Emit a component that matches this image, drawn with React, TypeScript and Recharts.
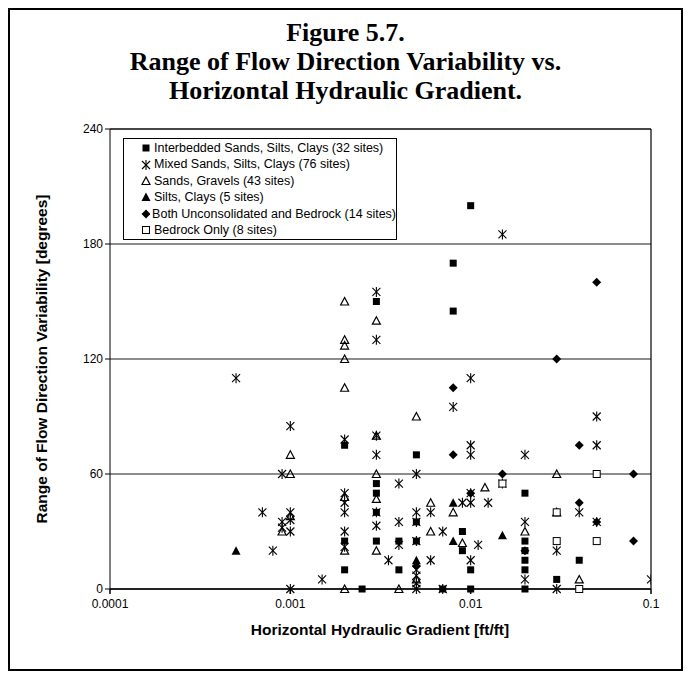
import { CartesianGrid, Legend, ReferenceLine, Scatter, ScatterChart, XAxis, YAxis } from "recharts";

type Pt = [number, number];

const interbedded: Pt[] = [
  [0.01, 200], [0.008, 170], [0.003, 150], [0.008, 145], [0.002, 75], [0.005, 70],
  [0.003, 55], [0.003, 50], [0.003, 40], [0.005, 35], [0.002, 25], [0.003, 25],
  [0.004, 25], [0.005, 25], [0.009, 30], [0.009, 20], [0.002, 10], [0.004, 10],
  [0.01, 10], [0.0025, 0], [0.007, 0], [0.01, 0], [0.02, 50], [0.02, 25], [0.02, 20],
  [0.02, 15], [0.02, 10], [0.02, 0], [0.04, 15], [0.03, 5]
];

const mixed: Pt[] = [
  [0.0005, 110], [0.015, 185], [0.003, 155], [0.003, 130], [0.01, 110], [0.008, 95],
  [0.001, 85], [0.002, 78], [0.003, 80], [0.003, 70], [0.01, 75], [0.01, 70], [0.02, 70],
  [0.05, 90], [0.05, 75], [0.0009, 60], [0.005, 60], [0.004, 55], [0.002, 50], [0.002, 45],
  [0.002, 40], [0.002, 30], [0.002, 22], [0.001, 40], [0.001, 36], [0.001, 30], [0.0009, 35],
  [0.0009, 32], [0.0007, 40], [0.0008, 20], [0.001, 0], [0.0015, 5], [0.003, 40], [0.003, 33],
  [0.004, 35], [0.004, 23], [0.0035, 15], [0.005, 40], [0.005, 35], [0.005, 25], [0.005, 10],
  [0.005, 7], [0.005, 3], [0.005, 0], [0.006, 40], [0.006, 15], [0.007, 30], [0.009, 45],
  [0.01, 50], [0.01, 45], [0.01, 15], [0.011, 23], [0.0125, 45], [0.015, 55], [0.02, 35],
  [0.02, 5], [0.03, 20], [0.03, 0], [0.04, 40], [0.05, 35], [0.1, 5], [0.007, 0]
];

const sandsGravels: Pt[] = [
  [0.002, 150], [0.003, 140], [0.002, 130], [0.002, 127], [0.002, 120], [0.002, 105],
  [0.005, 90], [0.001, 70], [0.003, 80], [0.001, 60], [0.003, 60], [0.001, 38], [0.0009, 30],
  [0.002, 48], [0.002, 20], [0.002, 0], [0.003, 47], [0.003, 20], [0.004, 0], [0.005, 5],
  [0.006, 45], [0.006, 30], [0.008, 40], [0.009, 24], [0.012, 53], [0.02, 30], [0.03, 60],
  [0.03, 40], [0.04, 5]
];

const siltsClays: Pt[] = [[0.0005, 20], [0.005, 15], [0.008, 45], [0.008, 25], [0.015, 28]];

const bothUncons: Pt[] = [
  [0.05, 160], [0.03, 120], [0.008, 105], [0.008, 70], [0.04, 75], [0.015, 60], [0.08, 60],
  [0.01, 50], [0.04, 45], [0.05, 35], [0.08, 25], [0.02, 20], [0.005, 12]
];

const bedrockOnly: Pt[] = [[0.05, 60], [0.015, 55], [0.03, 40], [0.03, 25], [0.05, 25], [0.04, 0]];

const xTicks = [0.0001, 0.001, 0.01, 0.1];
const yTicks = [0, 60, 120, 180, 240];

type Kind = "square" | "star" | "triangle" | "filledTriangle" | "diamond" | "openSquare";

const series: { name: string; kind: Kind; points: Pt[] }[] = [
  { name: "Interbedded Sands, Silts, Clays (32 sites)", kind: "square", points: interbedded },
  { name: "Mixed Sands, Silts, Clays (76 sites)", kind: "star", points: mixed },
  { name: "Sands, Gravels (43 sites)", kind: "triangle", points: sandsGravels },
  { name: "Silts, Clays (5 sites)", kind: "filledTriangle", points: siltsClays },
  { name: "Both Unconsolidated and Bedrock (14 sites)", kind: "diamond", points: bothUncons },
  { name: "Bedrock Only (8 sites)", kind: "openSquare", points: bedrockOnly }
];

function Marker({ kind, cx, cy }: { kind: Kind; cx: number; cy: number }) {
  switch (kind) {
    case "square":
      return <rect x={cx - 3.5} y={cy - 3.5} width={7} height={7} fill="#000" />;
    case "openSquare":
      return <rect x={cx - 3.5} y={cy - 3.5} width={7} height={7} fill="#fff" stroke="#000" strokeWidth={1} />;
    case "star":
      return (
        <g stroke="#000" strokeWidth={1.1}>
          <line x1={cx} y1={cy - 5} x2={cx} y2={cy + 5} />
          <line x1={cx - 4} y1={cy - 4} x2={cx + 4} y2={cy + 4} />
          <line x1={cx - 4} y1={cy + 4} x2={cx + 4} y2={cy - 4} />
        </g>
      );
    case "triangle":
      return <polygon points={`${cx},${cy - 4} ${cx + 4},${cy + 3.5} ${cx - 4},${cy + 3.5}`} fill="none" stroke="#000" strokeWidth={1.2} />;
    case "filledTriangle":
      return <polygon points={`${cx},${cy - 4.5} ${cx + 4.5},${cy + 4} ${cx - 4.5},${cy + 4}`} fill="#000" />;
    case "diamond":
      return <polygon points={`${cx},${cy - 4.5} ${cx + 4.5},${cy} ${cx},${cy + 4.5} ${cx - 4.5},${cy}`} fill="#000" />;
  }
}

function LegendBox() {
  return (
    <div
      style={{
        border: "1px solid #000",
        background: "#fff",
        padding: "1px 0 1px 16px",
        fontFamily: "'Liberation Sans', Arial, sans-serif",
        fontSize: 12.5,
        lineHeight: "16.4px",
        color: "#000"
      }}
    >
      {series.map((s) => (
        <div key={s.name} style={{ display: "flex", alignItems: "center", whiteSpace: "nowrap" }}>
          <svg width={12} height={12} style={{ marginRight: 2 }}>
            <Marker kind={s.kind} cx={6} cy={6} />
          </svg>
          {s.name}
        </div>
      ))}
    </div>
  );
}

const tickStyle = { fontFamily: "'Liberation Sans', Arial, sans-serif", fontSize: 12, fill: "#000" };

export default function App() {
  return (
    <div style={{ position: "relative", width: 675, height: 663 }}>
      <div
        style={{
          position: "absolute",
          left: 0,
          top: 0,
          width: 675,
          height: 663,
          border: "2px solid #000",
          boxSizing: "border-box"
        }}
      />
      <div
        style={{
          position: "absolute",
          left: 0,
          top: 10,
          width: 675,
          textAlign: "center",
          fontFamily: "'Liberation Serif', 'Times New Roman', serif",
          fontWeight: "bold",
          fontSize: 26,
          lineHeight: "29px"
        }}
      >
        <div>Figure 5.7.</div>
        <div>Range of Flow Direction Variability vs.</div>
        <div>Horizontal Hydraulic Gradient.</div>
      </div>
      <ScatterChart width={675} height={663} margin={{ top: 121, right: 32, bottom: 52, left: 62 }}>
        <CartesianGrid horizontal vertical={false} stroke="#666" strokeWidth={1.5} />
        <XAxis
          type="number"
          dataKey="x"
          scale="log"
          domain={[0.0001, 0.1]}
          ticks={xTicks}
          tickFormatter={(v: number) => String(v)}
          allowDataOverflow
          height={30}
          stroke="#000"
          strokeWidth={1.5}
          tick={tickStyle}
          tickSize={5}
          tickMargin={5}
        />
        <YAxis
          type="number"
          dataKey="y"
          domain={[0, 240]}
          ticks={yTicks}
          width={40}
          stroke="#000"
          tick={tickStyle}
          tickSize={5}
        />
        <ReferenceLine y={240} stroke="#000" strokeWidth={1.2} />
        <ReferenceLine x={0.1} stroke="#000" strokeWidth={1.2} />
        <Legend
          layout="horizontal"
          verticalAlign="middle"
          align="center"
          wrapperStyle={{ top: 130, left: 115, width: 274 }}
          content={() => <LegendBox />}
        />
        {series.map((s) => (
          <Scatter
            key={s.name}
            name={s.name}
            data={s.points.map(([x, y]) => ({ x, y }))}
            isAnimationActive={false}
            shape={(p: any) => <Marker kind={s.kind} cx={p.cx} cy={p.cy} />}
          />
        ))}
      </ScatterChart>
      <div
        style={{
          position: "absolute",
          left: 34,
          top: 351,
          transform: "translate(-50%, -50%) rotate(-90deg)",
          whiteSpace: "nowrap",
          fontFamily: "'Liberation Sans', Arial, sans-serif",
          fontWeight: "bold",
          fontSize: 15.5
        }}
      >
        Range of Flow Direction Variability [degrees]
      </div>
      <div
        style={{
          position: "absolute",
          left: 372,
          top: 622,
          transform: "translate(-50%, -50%)",
          whiteSpace: "nowrap",
          fontFamily: "'Liberation Sans', Arial, sans-serif",
          fontWeight: "bold",
          fontSize: 15.5
        }}
      >
        Horizontal Hydraulic Gradient [ft/ft]
      </div>
    </div>
  );
}
